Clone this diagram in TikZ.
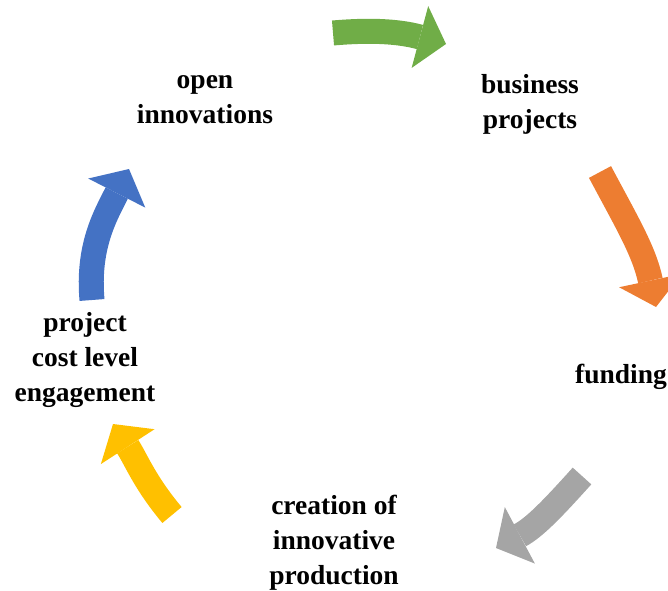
\documentclass[tikz,border=0pt]{standalone}
\usepackage{fontspec}
\setmainfont{Liberation Serif}
\usetikzlibrary{arrows.meta}
\definecolor{cgreen}{HTML}{70AD47}
\definecolor{corange}{HTML}{ED7D31}
\definecolor{cgray}{HTML}{A5A5A5}
\definecolor{cyellow}{HTML}{FFC000}
\definecolor{cblue}{HTML}{4472C4}
\tikzset{%
    lbl/.style={inner sep=0pt,align=center,font=\bfseries\fontsize{27.5}{35}\selectfont},
    cyc/.style={line width=25pt,-{Triangle[length=27pt,width=64pt,line width=0pt]}}
}
\begin{document}
\begin{tikzpicture}[x=1pt,y=1pt]
        \useasboundingbox (0,0) rectangle (668,590);
        \node[lbl] (open) at (205,490){open\\innovations};
        \node[lbl] (bus) at (530,486){business\\projects};
        \node[lbl] (fund) at (621,213){funding};
        \node[lbl] (prod) at (334,47){creation of\\innovative\\production};
        \node[lbl] (cost) at (85,230){project\\cost level\\engagement};
        \coordinate (g1) at (333,557);
        \coordinate (g2) at (446,546);
        \coordinate (o1) at (600,418);
        \coordinate (o2) at (656,283);
        \coordinate (r1) at (582,114);
        \coordinate (r2) at (496,42);
        \coordinate (y1) at (172,75);
        \coordinate (y2) at (113,166);
        \coordinate (b1) at (92,290);
        \coordinate (b2) at (129,421);
        \draw[cyc,cgreen] (g1) to[out=5,in=165] (g2);
        \draw[cyc,corange] (o1) to[out=-62,in=102] (o2);
        \draw[cyc,cgray] (r1) to[out=228,in=28] (r2);
        \draw[cyc,cyellow] (y1) to[out=130,in=-57] (y2);
        \draw[cyc,cblue] (b1) to[out=95,in=243] (b2);
    \end{tikzpicture}
\end{document}
